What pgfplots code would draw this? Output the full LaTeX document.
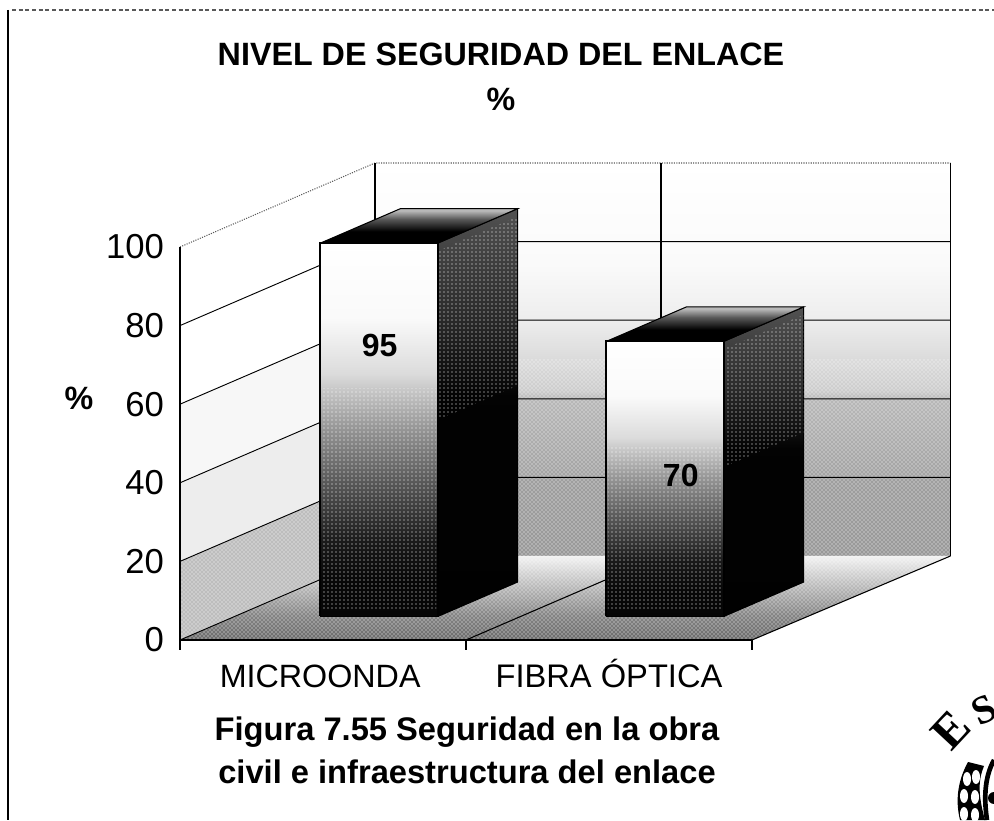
\documentclass[border=0pt]{standalone}
\usepackage{pgfplots}
\pgfplotsset{compat=1.18}
\usetikzlibrary{patterns}
\usepackage{fontspec}
\setmainfont{Liberation Sans}
\newfontfamily\serifb{Liberation Serif}
\pgfdeclareverticalshading{barfront}{100bp}{rgb(0bp)=(0.02,0.02,0.02);rgb(25bp)=(0.02,0.02,0.02);rgb(30bp)=(0.03,0.03,0.03);rgb(35bp)=(0.1,0.1,0.1);rgb(42.5bp)=(0.33,0.33,0.33);rgb(50bp)=(0.58,0.58,0.58);rgb(57.5bp)=(0.86,0.86,0.86);rgb(65bp)=(0.98,0.98,0.98);rgb(75bp)=(1,1,1);rgb(100bp)=(1,1,1)}
\pgfdeclareverticalshading{barside}{100bp}{rgb(0bp)=(0,0,0);rgb(52bp)=(0.01,0.01,0.01);rgb(62bp)=(0.17,0.17,0.17);rgb(75bp)=(0.32,0.32,0.32);rgb(100bp)=(0.32,0.32,0.32)}
\pgfdeclareverticalshading{bartop}{100bp}{rgb(0bp)=(0,0,0);rgb(42bp)=(0,0,0);rgb(60bp)=(0.35,0.35,0.35);rgb(72bp)=(0.72,0.72,0.72);rgb(100bp)=(0.72,0.72,0.72)}
\pgfdeclareverticalshading{floorsh}{100bp}{rgb(0bp)=(0.42,0.42,0.42);rgb(25bp)=(0.42,0.42,0.42);rgb(40bp)=(0.52,0.52,0.52);rgb(58bp)=(0.74,0.74,0.74);rgb(75bp)=(0.95,0.95,0.95);rgb(100bp)=(0.95,0.95,0.95)}
\pgfdeclareverticalshading{backsh}{100bp}{rgb(0bp)=(0.6,0.6,0.6);rgb(25bp)=(0.6,0.6,0.6);rgb(35bp)=(0.62,0.62,0.62);rgb(35.01bp)=(0.64,0.64,0.64);rgb(45bp)=(0.72,0.72,0.72);rgb(46bp)=(0.8,0.8,0.8);rgb(55bp)=(0.93,0.93,0.93);rgb(62bp)=(0.98,0.98,0.98);rgb(75bp)=(1,1,1);rgb(100bp)=(1,1,1)}
\begin{document}
\begin{tikzpicture}[x=0.75pt,y=0.75pt]
\useasboundingbox (0,0) rectangle (994,820);
\begin{axis}[
  at={(135pt,135pt)},anchor=origin,
  x={(214.5pt,0pt)},y={(146.25pt,63pt)},z={(0pt,2.9475pt)},
  xmin=0,xmax=2,ymin=0,ymax=1,zmin=0,zmax=100,
  hide axis,clip=false,no markers,
  halftone/.style={draw=none,pattern=crosshatch dots,pattern color=white},
  sparse/.style={draw=none,pattern=dots,pattern color=white}]
% walls and floor
\addplot3[shading=backsh,draw=none] coordinates {(0,1,0)(2.012,1,0)(2.012,1,100)(0,1,100)(0,1,0)};
\addplot3[halftone] coordinates {(0,1,0)(2.012,1,0)(2.012,1,50)(0,1,50)(0,1,0)};
\addplot3[fill=gray!52,draw=none] coordinates {(0,0,0)(0,1,0)(0,1,20)(0,0,20)(0,0,0)};
\addplot3[halftone] coordinates {(0,0,0)(0,1,0)(0,1,20)(0,0,20)(0,0,0)};
\addplot3[fill=gray!14,draw=none] coordinates {(0,0,20)(0,1,20)(0,1,40)(0,0,40)(0,0,20)};
\addplot3[fill=gray!6,draw=none] coordinates {(0,0,40)(0,1,40)(0,1,60)(0,0,60)(0,0,40)};
\addplot3[shading=floorsh,draw=none] coordinates {(0,0,0)(2,0,0)(2.012,1,0)(0,1,0)(0,0,0)};
\addplot3[halftone] coordinates {(0,0,0)(2,0,0)(2.012,1,0)(0,1,0)(0,0,0)};
% gridlines
\pgfplotsinvokeforeach{20,40,60,80}{
  \addplot3[black,line width=0.7pt] coordinates {(0,0,#1)(0,1,#1)(2.012,1,#1)};
}
\addplot3[black!65,line width=0.8pt,densely dotted] coordinates {(0,0,100)(0,1,100)(2.012,1,100)};
\addplot3[black,line width=0.8pt] coordinates {(0,1,0)(0,1,100)};
\addplot3[black,line width=0.8pt] coordinates {(1,1,0)(1,1,100)};
\addplot3[black,line width=0.8pt] coordinates {(2.012,1,0)(2.012,1,100)};
\addplot3[black,line width=0.8pt] coordinates {(1,0,0)(1,1,0)};
\addplot3[black,line width=0.7pt] coordinates {(0,0,0)(0,1,0)};
\addplot3[black,line width=0.8pt] coordinates {(2,0,0)(2.012,1,0)};
\addplot3[black,line width=1pt] coordinates {(0,0,-2.5)(0,0,100)};
\addplot3[black,line width=0.9pt] coordinates {(0,0,0)(2,0,0)};
\addplot3[black,line width=0.9pt] coordinates {(1,0,0)(1,0,-2.5)};
\addplot3[black,line width=0.9pt] coordinates {(2,0,0)(2,0,-2.5)};
% bar 1: value 95
\addplot3[shading=barside,draw=black,line width=0.8pt] coordinates {(0.71,0.28,0)(0.71,0.69,0)(0.71,0.69,95)(0.71,0.28,95)(0.71,0.28,0)};
\addplot3[sparse] coordinates {(0.71,0.28,50)(0.71,0.69,50)(0.71,0.69,93)(0.71,0.28,93)(0.71,0.28,50)};
\addplot3[shading=bartop,draw=black,line width=0.8pt] coordinates {(0.30,0.28,95)(0.71,0.28,95)(0.71,0.69,95)(0.30,0.69,95)(0.30,0.28,95)};
\addplot3[shading=barfront,draw=black,line width=1.4pt] coordinates {(0.30,0.28,0)(0.71,0.28,0)(0.71,0.28,95)(0.30,0.28,95)(0.30,0.28,0)};
\addplot3[sparse] coordinates {(0.305,0.28,2)(0.705,0.28,2)(0.705,0.28,58)(0.305,0.28,58)(0.305,0.28,2)};
% bar 2: value 70
\addplot3[shading=barside,draw=black,line width=0.8pt] coordinates {(1.71,0.28,0)(1.71,0.69,0)(1.71,0.69,70)(1.71,0.28,70)(1.71,0.28,0)};
\addplot3[sparse] coordinates {(1.71,0.28,38)(1.71,0.69,38)(1.71,0.69,68)(1.71,0.28,68)(1.71,0.28,38)};
\addplot3[shading=bartop,draw=black,line width=0.8pt] coordinates {(1.30,0.28,70)(1.71,0.28,70)(1.71,0.69,70)(1.30,0.69,70)(1.30,0.28,70)};
\addplot3[shading=barfront,draw=black,line width=1.4pt] coordinates {(1.30,0.28,0)(1.71,0.28,0)(1.71,0.28,70)(1.30,0.28,70)(1.30,0.28,0)};
\addplot3[sparse] coordinates {(1.305,0.28,2)(1.705,0.28,2)(1.705,0.28,43)(1.305,0.28,43)(1.305,0.28,2)};
% labels tied to the data
\node[font=\fontsize{24}{28}\selectfont\bfseries] at (axis cs:0.507,0.28,69) {95};
\node[font=\fontsize{24}{28}\selectfont\bfseries] at (axis cs:1.56,0.28,36) {70};
\foreach \v in {0,20,40,60,80,100}{
  \edef\tmp{\noexpand\node[anchor=east,font=\noexpand\fontsize{26}{28}\noexpand\selectfont,inner sep=0pt] at (axis cs:-0.055,0,\v) {\v};}\tmp
}
\node[anchor=base,font=\fontsize{24.2}{28}\selectfont] at (axis cs:0.49,0,-12.2) {MICROONDA};
\node[anchor=base,font=\fontsize{24.5}{28}\selectfont] at (axis cs:1.50,0,-12.2) {FIBRA ÓPTICA};
\end{axis}
% frame of the scanned page
\draw[black,line width=1pt] (8,810) -- (8,0);
\draw[black!65,line width=0.8pt,densely dashed] (12,810) -- (994,810);
% titles
\node[anchor=base,font=\fontsize{24.2}{28}\selectfont\bfseries] at (501,754) {NIVEL DE SEGURIDAD DEL ENLACE};
\node[font=\fontsize{24.2}{28}\selectfont\bfseries] at (501,721) {\%};
\node[font=\fontsize{24.2}{28}\selectfont\bfseries] at (79,422) {\%};
\node[anchor=base,font=\fontsize{24.5}{28}\selectfont\bfseries] at (467,80) {Figura 7.55 Seguridad en la obra};
\node[anchor=base,font=\fontsize{24.5}{28}\selectfont\bfseries] at (467,37) {civil e infraestructura del enlace};
% seal in the corner
\node[font=\fontsize{36}{40}\selectfont\serifb\bfseries,rotate=47,inner sep=0pt] at (951,90) {E};
\node[font=\fontsize{30}{34}\selectfont\serifb\bfseries,rotate=25,inner sep=0pt] at (984,110) {S};
\fill[black] (968,58) .. controls (958,40) and (955,20) .. (960,0) -- (985,0) .. controls (978,25) and (978,40) .. (984,54) -- cycle;
\foreach \a/\b in {964/6,964/24,967/41,975/5,975/23,976/43}{\fill[white] (\a,\b) ellipse (4 and 7);}
\draw[black,line width=3.5pt] (994,60) .. controls (984,42) and (984,20) .. (987,0);
\fill[black] (994,22) circle (6);
\end{tikzpicture}
\end{document}
